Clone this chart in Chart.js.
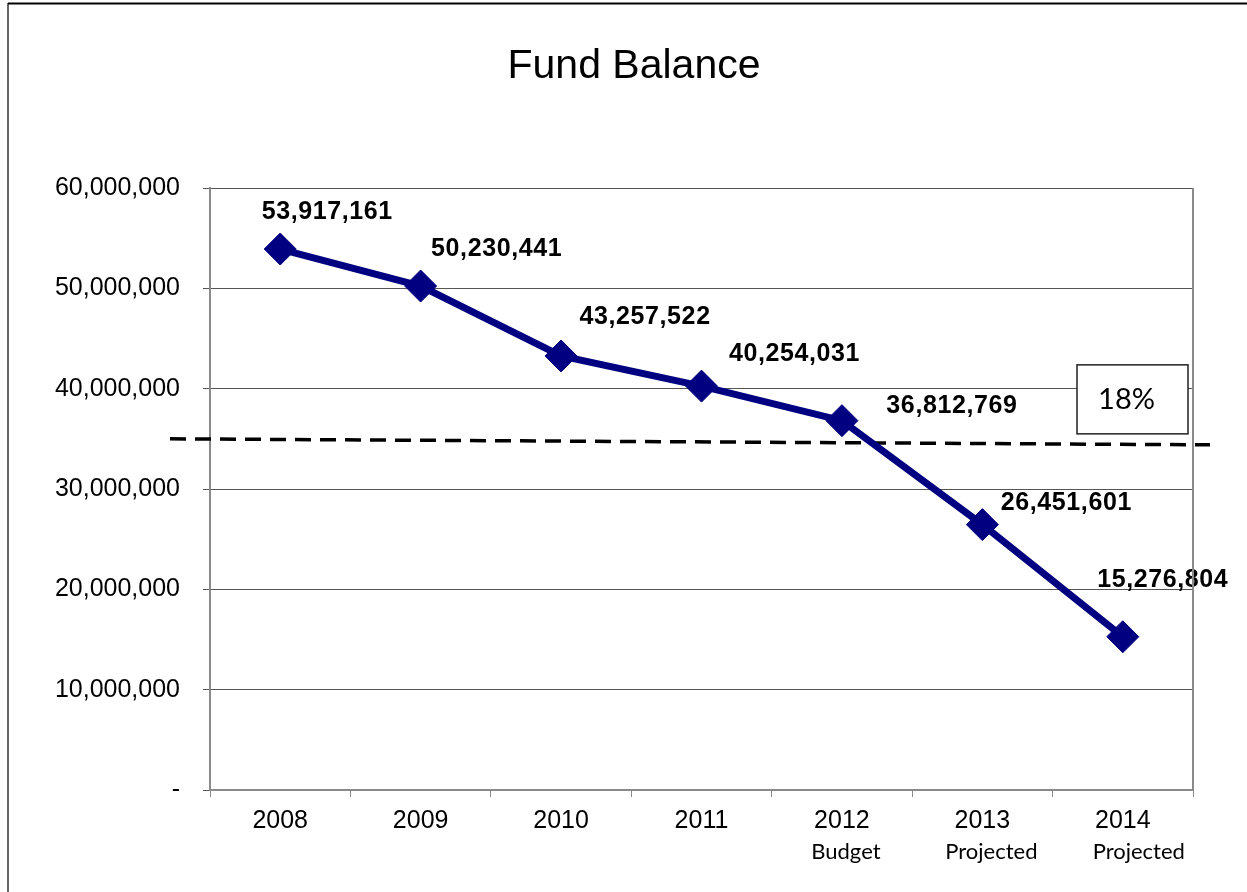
<!DOCTYPE html>
<html>
<head>
<meta charset="utf-8">
<title>Fund Balance</title>
<script src="https://cdn.jsdelivr.net/npm/chart.js@4.4.1/dist/chart.umd.min.js"></script>
<style>
  html, body { margin: 0; padding: 0; background: #fff; }
  #wrap { width: 1247px; height: 892px; }
</style>
</head>
<body>
<div id="wrap"><canvas id="fundChart" width="1247" height="892"></canvas></div>
<script>
// chart data
const years = ['2008', '2009', '2010', '2011', '2012', '2013', '2014'];
const yearNotes = ['', '', '', '', 'Budget', 'Projected', 'Projected'];
const fundBalance = [53917161, 50230441, 43257522, 40254031, 36812769, 26451601, 15276804];
const yTicks = [0, 10000000, 20000000, 30000000, 40000000, 50000000, 60000000];
const reserveLine = [35000000, 34400000]; // dashed target, left end / right end
const reserveLabel = '18%';
const chartTitle = 'Fund Balance';

// where each value label sits relative to its point (hand placed in the original)
const labelOffsets = [[47, -37], [76, -37], [84, -39], [93, -32], [110, -15], [84, -21], [40, -57]];
const noteShift = [0, 0, 0, 0, 4, 9, 16];

function fmt(v) {
    return v === 0 ? '-' : v.toLocaleString('en-US');
}

const extras = {
    id: 'extras',
    beforeDatasetsDraw(chart) {
        const { ctx, chartArea, scales } = chart;
        ctx.save();
        ctx.strokeStyle = '#000';
        ctx.lineWidth = 3.5;
        ctx.setLineDash([16, 9]);
        ctx.beginPath();
        ctx.moveTo(chartArea.left - 40, scales.y.getPixelForValue(reserveLine[0]));
        ctx.lineTo(chartArea.right + 17, scales.y.getPixelForValue(reserveLine[1]));
        ctx.stroke();
        ctx.restore();
    },
    afterDatasetsDraw(chart) {
        const { ctx, chartArea, scales } = chart;
        const meta = chart.getDatasetMeta(0);

        // value labels
        ctx.save();
        ctx.letterSpacing = '0.6px';
        ctx.font = 'bold 25px "Liberation Sans", Arial, sans-serif';
        ctx.fillStyle = '#000';
        ctx.textAlign = 'center';
        ctx.textBaseline = 'middle';
        meta.data.forEach((pt, i) => {
            const off = labelOffsets[i];
            ctx.fillText(fmt(fundBalance[i]), pt.x + off[0], pt.y + off[1]);
        });
        ctx.restore();

        // 18% box above the dashed line
        const lineY = scales.y.getPixelForValue(reserveLine[1]);
        const bw = 111, bh = 69;
        const bx = chartArea.right - 5 - bw;
        const by = lineY - 11 - bh;
        ctx.save();
        ctx.fillStyle = '#fff';
        ctx.fillRect(bx, by, bw, bh);
        ctx.strokeStyle = '#222';
        ctx.lineWidth = 1.5;
        ctx.strokeRect(bx, by, bw, bh);
        ctx.fillStyle = '#000';
        ctx.font = '29px Lato, "Open Sans", sans-serif';
        ctx.textAlign = 'center';
        ctx.textBaseline = 'middle';
        ctx.fillText(reserveLabel, bx + bw / 2 - 6, by + bh / 2);
        ctx.restore();
    },
    afterDraw(chart) {
        const { ctx, chartArea, scales, width, height } = chart;
        ctx.save();

        // title
        ctx.font = '41px "Liberation Sans", Arial, sans-serif';
        ctx.fillStyle = '#000';
        ctx.textAlign = 'center';
        ctx.textBaseline = 'middle';
        ctx.fillText(chartTitle, 634, 67);

        // notes under the year labels
        ctx.font = '22px Lato, "Open Sans", sans-serif';
        yearNotes.forEach((note, i) => {
            if (!note) return;
            ctx.fillText(note, scales.x.getPixelForValue(i) + noteShift[i], chartArea.bottom + 62);
        });

        // right edge of plot frame
        ctx.strokeStyle = '#8a8a8a';
        ctx.lineWidth = 2;
        ctx.beginPath();
        ctx.moveTo(chartArea.right, chartArea.top);
        ctx.lineTo(chartArea.right, chartArea.bottom);
        ctx.stroke();

        // outer page frame (left and top only visible)
        ctx.strokeStyle = '#666';
        ctx.beginPath();
        ctx.moveTo(8, 3);
        ctx.lineTo(8, height);
        ctx.stroke();
        ctx.strokeStyle = '#000';
        ctx.beginPath();
        ctx.moveTo(8, 3.5);
        ctx.lineTo(width, 3.5);
        ctx.stroke();
        ctx.restore();
    }
};

const fundChart = new Chart(document.getElementById('fundChart'), {
    type: 'line',
    data: {
        labels: years,
        datasets: [{
            label: 'Fund Balance',
            data: fundBalance,
            borderColor: '#000080',
            backgroundColor: '#000080',
            borderWidth: 7,
            pointStyle: 'rectRot',
            pointRadius: 16,
            pointBorderWidth: 1,
            pointBackgroundColor: '#000080',
            pointBorderColor: '#000080',
            tension: 0,
            fill: false
        }]
    },
    options: {
        responsive: false,
        animation: false,
        devicePixelRatio: 1,
        layout: { padding: { left: 0, right: 54, top: 188, bottom: 0 } },
        plugins: {
            legend: { display: false },
            tooltip: { enabled: false },
            title: { display: false }
        },
        scales: {
            x: {
                offset: true,
                grid: { offset: true, drawOnChartArea: false, drawTicks: true, tickLength: 7, color: '#8a8a8a' },
                border: { color: '#8a8a8a', width: 2 },
                ticks: {
                    color: '#000',
                    padding: 9,
                    maxRotation: 0,
                    font: { family: '"Liberation Sans", Arial, sans-serif', size: 25 }
                },
                afterFit(scale) { scale.height = 102; }
            },
            y: {
                min: 0,
                max: 60000000,
                afterBuildTicks(scale) { scale.ticks = yTicks.map(v => ({ value: v })); },
                grid: { color: '#555', lineWidth: 1, tickLength: 7, tickColor: '#555' },
                border: { color: '#8a8a8a', width: 2 },
                ticks: {
                    color: '#000',
                    padding: 23,
                    font: { family: '"Liberation Sans", Arial, sans-serif', size: 25 },
                    callback: (v) => fmt(v)
                },
                afterFit(scale) { scale.width = 210; }
            }
        }
    },
    plugins: [extras]
});
</script>
</body>
</html>
